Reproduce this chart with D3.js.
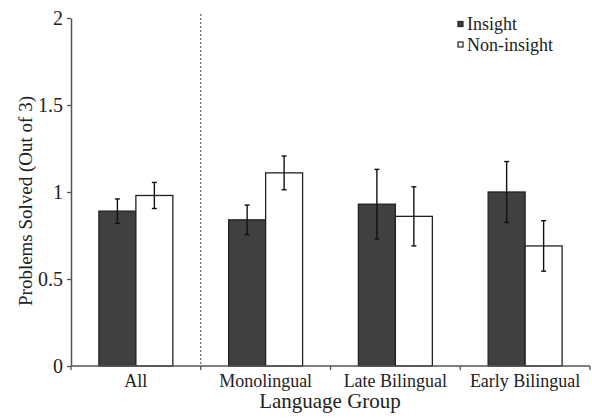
<!DOCTYPE html>
<html><head><meta charset="utf-8">
<script src="https://cdn.jsdelivr.net/npm/d3@7"></script>
<style>body{margin:0;background:#fff}svg{display:block}</style>
</head><body>
<svg id="c" width="592" height="418"></svg>
<script>
const categories = ["All", "Monolingual", "Late Bilingual", "Early Bilingual"];
const seriesNames = ["Insight", "Non-insight"];
const insight = [0.89, 0.84, 0.93, 1.00];
const insightErr = [0.07, 0.085, 0.2, 0.175];
const nonInsight = [0.98, 1.11, 0.86, 0.69];
const nonInsightErr = [0.075, 0.097, 0.17, 0.145];
const yTicks = [0, 0.5, 1, 1.5, 2];

const FONT = '"Liberation Serif", "Times New Roman", serif';
const svg = d3.select("#c");
const mLeft = 71, mRight = 590, mTop = 18, mBottom = 366;
const x = d3.scaleBand().domain(categories).range([mLeft, mRight]).padding(0);
const y = d3.scaleLinear().domain([0, 2]).range([mBottom, mTop]);
const bw = x.bandwidth();
const barW = bw * 0.285;
const off = (bw - 2 * barW) / 2;
const axisColor = "#555";

// dashed separator
svg.append("line").attr("x1", x("Monolingual")).attr("x2", x("Monolingual"))
  .attr("y1", 14).attr("y2", mBottom).attr("stroke", "#666").attr("stroke-width", 1.2)
  .attr("stroke-dasharray", "2,2");

const series = [
  {name: seriesNames[0], vals: insight, err: insightErr, fill: "#404040"},
  {name: seriesNames[1], vals: nonInsight, err: nonInsightErr, fill: "#ffffff"}
];
series.forEach((s, si) => {
  const g = svg.append("g");
  categories.forEach((c, i) => {
    const bx = x(c) + off + si * barW;
    g.append("rect").attr("x", bx).attr("y", y(s.vals[i])).attr("width", barW)
      .attr("height", y(0) - y(s.vals[i])).attr("fill", s.fill).attr("stroke", "#222").attr("stroke-width", 1.3);
    const cx = bx + barW / 2;
    const hi = y(s.vals[i] + s.err[i]), lo = y(s.vals[i] - s.err[i]);
    g.append("line").attr("x1", cx).attr("x2", cx).attr("y1", hi).attr("y2", lo).attr("stroke", "#111").attr("stroke-width", 1.4);
    [hi, lo].forEach(yy => g.append("line").attr("x1", cx - 2.5).attr("x2", cx + 2.5).attr("y1", yy).attr("y2", yy).attr("stroke", "#111").attr("stroke-width", 1.4));
  });
});

// y axis
const yAxis = svg.append("g").attr("transform", `translate(${mLeft},0)`)
  .call(d3.axisLeft(y).tickValues(yTicks).tickFormat(d3.format("")).tickSize(4).tickSizeOuter(0));
yAxis.select(".domain").attr("stroke", axisColor).attr("stroke-width", 1.5);
yAxis.selectAll(".tick line").attr("stroke", axisColor).attr("stroke-width", 1.3);
yAxis.selectAll(".tick text").attr("x", -8).attr("fill", "#222")
  .style("font-family", FONT).style("font-size", "20px");

// x axis
const xAxisG = svg.append("g").attr("transform", `translate(0,${mBottom})`);
xAxisG.append("line").attr("x1", mLeft).attr("x2", mRight).attr("stroke", axisColor).attr("stroke-width", 1.5);
const bounds = categories.map(c => x(c)).concat([mRight]);
xAxisG.selectAll("line.t").data(bounds).enter().append("line").attr("class", "t")
  .attr("x1", d => d).attr("x2", d => d).attr("y1", 0).attr("y2", 4).attr("stroke", axisColor).attr("stroke-width", 1.3);
xAxisG.selectAll("text").data(categories).enter().append("text")
  .attr("x", d => x(d) + bw / 2).attr("y", 21).attr("text-anchor", "middle").attr("fill", "#222")
  .style("font-family", FONT).style("font-size", "18px").text(d => d);

// axis titles
svg.append("text").attr("x", 330).attr("y", 408).attr("text-anchor", "middle").attr("fill", "#222")
  .style("font-family", FONT).style("font-size", "21px").text("Language Group");
svg.append("text").attr("transform", "translate(32,201) rotate(-90)").attr("text-anchor", "middle").attr("fill", "#222")
  .style("font-family", FONT).style("font-size", "19px").text("Problems Solved (Out of 3)");

// legend
const leg = svg.append("g");
series.forEach((s, i) => {
  const ly = 24 + i * 20.5;
  leg.append("rect").attr("x", 458).attr("y", ly - 2.5).attr("width", 5).attr("height", 5).attr("fill", s.fill).attr("stroke", "#222").attr("stroke-width", 1.2);
  leg.append("text").attr("x", 467).attr("y", ly + 6).attr("fill", "#222")
    .style("font-family", FONT).style("font-size", "18px").text(s.name);
});
</script>
</body></html>
